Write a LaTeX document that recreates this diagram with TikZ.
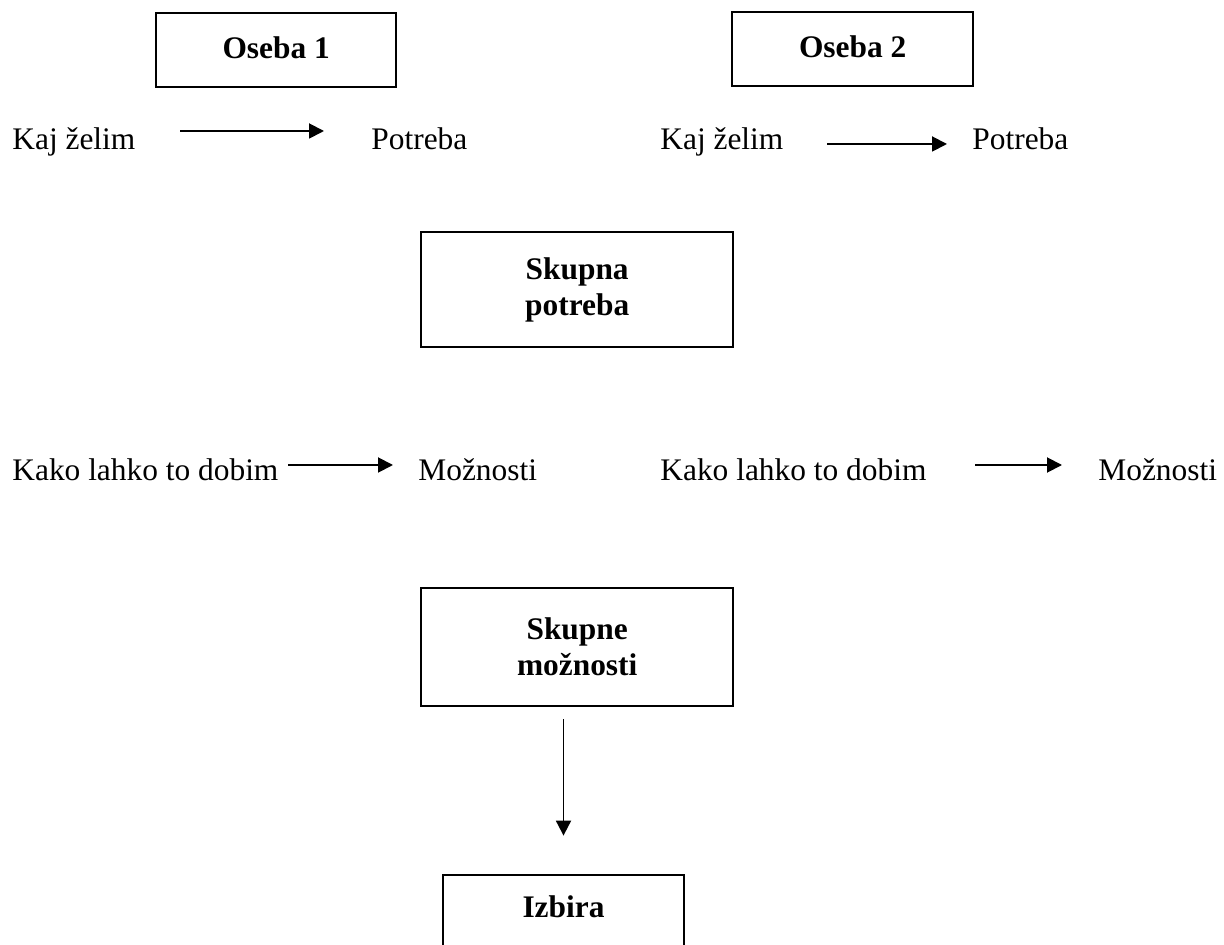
\documentclass[tikz,border=0pt]{standalone}
\usepackage{fontspec}
\setmainfont{Liberation Serif}
\usetikzlibrary{arrows.meta}
\begin{document}
\begin{tikzpicture}[x=0.5pt,y=-0.5pt,
  box/.style={draw, line width=1.2pt, inner sep=0pt, font=\fontsize{15.7}{18}\selectfont\bfseries, align=center},
  lbl/.style={anchor=base west, inner sep=0pt, font=\fontsize{15.7}{18}\selectfont},
  arr/.style={line width=0.95pt, -{Triangle[length=7.5pt,width=7.5pt]}}]
\useasboundingbox (0,0) rectangle (1224,945);
\fill[white] (0,0) rectangle (1224,945);
\clip (0,0) rectangle (1224,945);
% top boxes
\node[box, anchor=north west, minimum width=120pt, minimum height=37pt, text depth=3pt] (os1) at (155,12) {Oseba 1};
\node[box, anchor=north west, minimum width=120.5pt, minimum height=37pt, text depth=3pt] (os2) at (731,11) {Oseba 2};
% row 1
\node[lbl] (kaj1) at (12,150) {Kaj želim};
\node[lbl] (pot1) at (371,150) {Potreba};
\node[lbl] (kaj2) at (660,150) {Kaj želim};
\node[lbl] (pot2) at (972,150) {Potreba};
\coordinate (a1s) at (180,131); \coordinate (a1e) at (324,131);
\coordinate (a2s) at (827,144); \coordinate (a2e) at (947,144);
\draw[arr] (a1s) -- (a1e);
\draw[arr] (a2s) -- (a2e);
% skupna potreba
\node[box, anchor=north west, minimum width=156pt, minimum height=57.5pt] (skp) at (420,231) {Skupna\\potreba};
% row 2
\node[lbl] (kako1) at (12,481) {Kako lahko to dobim};
\node[lbl] (moz1) at (418,481) {Možnosti};
\node[lbl] (kako2) at (660,481) {Kako lahko to dobim};
\node[lbl] (moz2) at (1098,481) {Možnosti};
\coordinate (a3s) at (288,465); \coordinate (a3e) at (393,465);
\coordinate (a4s) at (975,465); \coordinate (a4e) at (1062,465);
\draw[arr] (a3s) -- (a3e);
\draw[arr] (a4s) -- (a4e);
% skupne moznosti
\node[box, anchor=north west, minimum width=156pt, minimum height=59pt] (skm) at (420,587) {Skupne\\možnosti};
% izbira
\node[box, anchor=base, minimum width=120.5pt, text height=10.6pt, text depth=40pt, inner ysep=10.5pt] (izb) at (563.5,917) {Izbira};
\draw[arr, shorten <=6pt, shorten >=19pt] (skm.south -| izb.north) -- (izb.north);
\end{tikzpicture}
\end{document}
